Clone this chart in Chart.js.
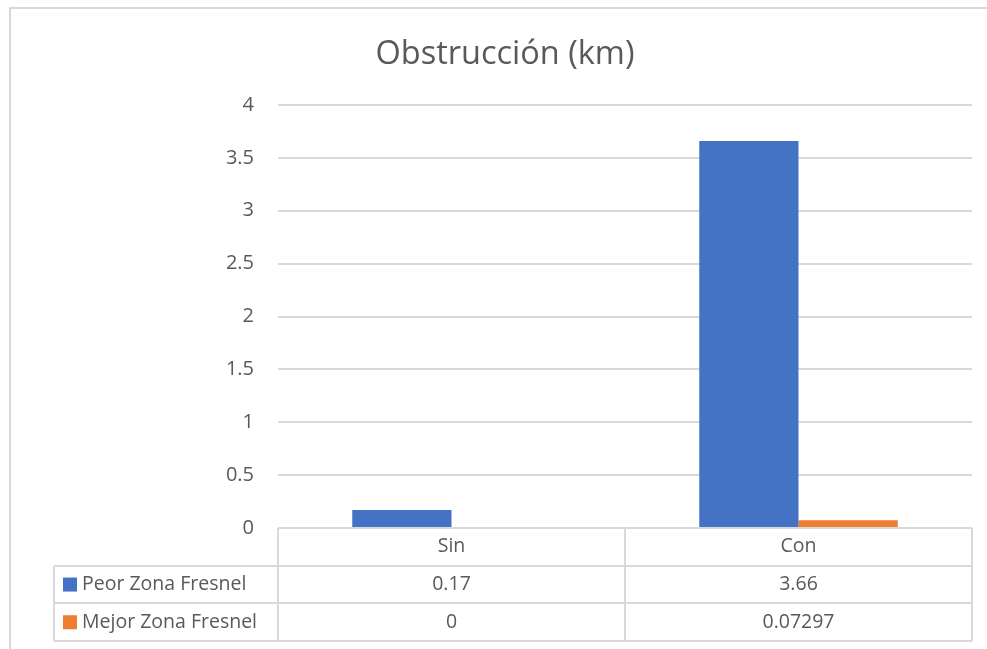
<!DOCTYPE html>
<html>
<head>
<meta charset="utf-8">
<script src="https://cdn.jsdelivr.net/npm/chart.js@4"></script>
<style>
    html, body { margin: 0; padding: 0; background: #fff; }
    #wrap { position: relative; width: 987px; height: 649px; }
    #frame { position: absolute; left: 9px; top: 7px; right: 0; bottom: 0;
             border-left: 2px solid #d9d9d9; border-top: 2px solid #d9d9d9; }
    canvas { position: absolute; left: 0; top: 0; }
</style>
</head>
<body>
<div id="wrap">
    <div id="frame"></div>
    <canvas id="chart" width="987" height="649"></canvas>
</div>
<script>
const categories = ["Sin", "Con"];
const peorZona = [0.17, 3.66];
const mejorZona = [0, 0.07297];
const peorLabels = ["0.17", "3.66"];
const mejorLabels = ["0", "0.07297"];
const seriesNames = ["Peor Zona Fresnel", "Mejor Zona Fresnel"];
const yTicks = [0, 0.5, 1, 1.5, 2, 2.5, 3, 3.5, 4];

const gridColor = "#d9d9d9";
const textColor = "#595959";
const fontFamily = "'Open Sans', sans-serif";

// Tabla de datos debajo del gráfico
const dataTable = {
    id: "dataTable",
    afterDraw(chart) {
        const ctx = chart.ctx;
        const area = chart.chartArea;
        const n = categories.length;
        const colW = (area.right - area.left) / n;
        const rowH = 37.7;
        const top = area.bottom;
        const legendLeft = 54;
        const rows = [peorLabels, mejorLabels];
        const colors = chart.data.datasets.map(d => d.backgroundColor);

        ctx.save();
        ctx.strokeStyle = gridColor;
        ctx.lineWidth = 2;
        ctx.beginPath();
        // horizontales
        ctx.moveTo(area.left, top); ctx.lineTo(area.right, top);
        for (let r = 1; r <= 3; r++) {
            const y = Math.round(top + r * rowH);
            ctx.moveTo(legendLeft, y); ctx.lineTo(area.right, y);
        }
        // verticales
        ctx.moveTo(legendLeft, Math.round(top + rowH)); ctx.lineTo(legendLeft, Math.round(top + 3 * rowH));
        for (let c = 0; c <= n; c++) {
            const x = Math.round(area.left + c * colW);
            ctx.moveTo(x, top); ctx.lineTo(x, Math.round(top + 3 * rowH));
        }
        ctx.stroke();

        ctx.fillStyle = textColor;
        ctx.font = "19.5px " + fontFamily;
        ctx.textAlign = "center";
        ctx.textBaseline = "middle";
        categories.forEach((cat, i) => {
            const x = chart.scales.x.getPixelForValue(i);
            ctx.fillText(cat, x, top + rowH * 0.5);
            rows.forEach((row, r) => {
                ctx.fillText(row[i], x, top + rowH * (r + 1.5));
            });
        });

        ctx.textAlign = "left";
        seriesNames.forEach((name, r) => {
            const y = top + rowH * (r + 1.5);
            ctx.fillStyle = colors[r];
            ctx.fillRect(63, y - 7, 14, 14);
            ctx.fillStyle = textColor;
            ctx.fillText(name, 82, y);
        });
        ctx.restore();
    }
};

new Chart(document.getElementById("chart"), {
    type: "bar",
    data: {
        labels: categories,
        datasets: [
            { label: seriesNames[0], data: peorZona, backgroundColor: "#4472c4" },
            { label: seriesNames[1], data: mejorZona, backgroundColor: "#ed7d31" }
        ]
    },
    options: {
        responsive: false,
        animation: false,
        layout: { padding: { left: 38, right: 15, top: 0, bottom: 121 } },
        datasets: { bar: { categoryPercentage: 0.572, barPercentage: 1 } },
        plugins: {
            legend: { display: false },
            tooltip: { enabled: false },
            title: {
                display: true,
                text: "Obstrucción (km)",
                color: textColor,
                font: { family: fontFamily, size: 32.5, weight: "normal" },
                padding: { top: 35, bottom: 31 }
            }
        },
        scales: {
            x: { display: false },
            y: {
                min: 0,
                max: 4,
                afterBuildTicks: s => { s.ticks = yTicks.map(v => ({ value: v })); },
                afterFit: s => { s.width = 240; },
                border: { display: false },
                grid: { color: gridColor, lineWidth: 2, drawTicks: false },
                ticks: {
                    color: textColor,
                    padding: 24,
                    font: { family: fontFamily, size: 20 },
                    callback: v => String(v)
                }
            }
        }
    },
    plugins: [dataTable]
});
</script>
</body>
</html>
